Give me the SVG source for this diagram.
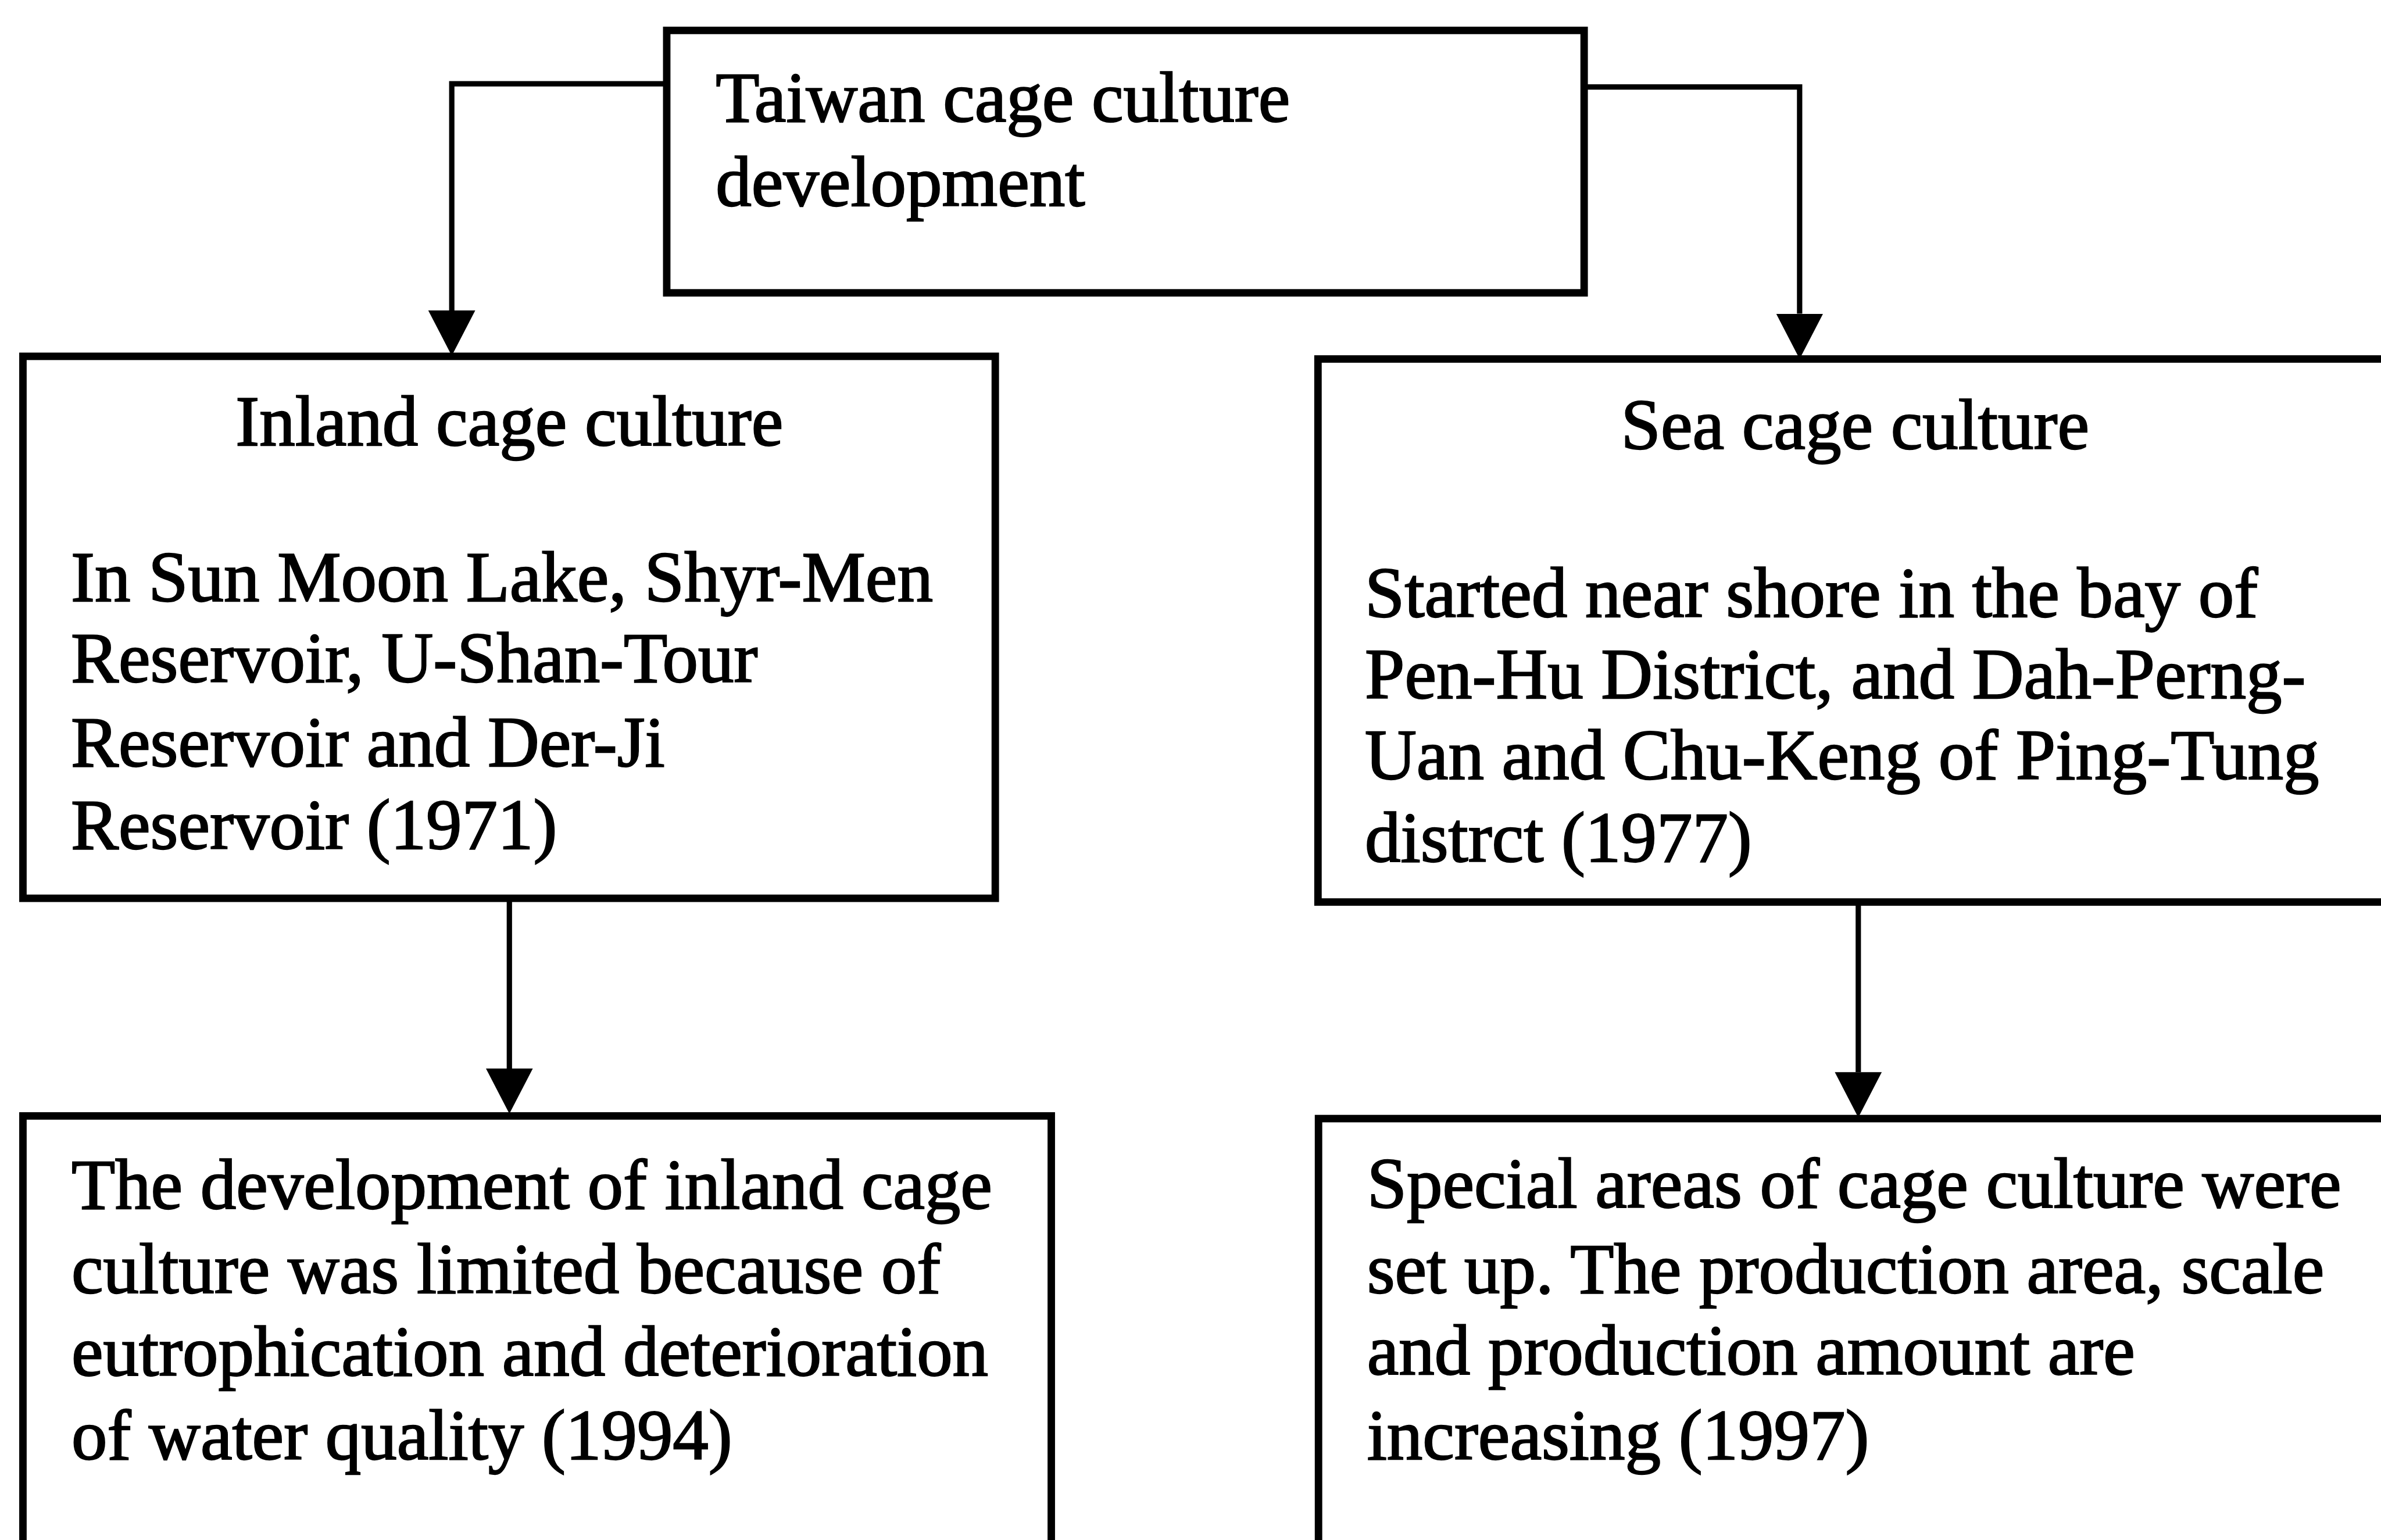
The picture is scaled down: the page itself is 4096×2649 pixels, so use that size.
<svg xmlns="http://www.w3.org/2000/svg" width="4096" height="2649" viewBox="0 0 4096 2649">
  <style>
    .box { fill: #ffffff; stroke: #000000; stroke-width: 14; }
    .link { fill: none; stroke: #000000; stroke-width: 10; stroke-linecap: butt; }
    .txt { font-family: "Liberation Serif", "Times New Roman", serif; font-size: 134px; fill: #000000; stroke: #000000; stroke-width: 2.5; }
    .mid { text-anchor: middle; }
  </style>
  <defs>
    <marker id="arrow" markerUnits="userSpaceOnUse" viewBox="0 0 85 88" refX="0" refY="44" markerWidth="85" markerHeight="88" orient="auto">
      <path d="M0,0 L85,44 L0,88 Z" fill="#000000"/>
    </marker>
  </defs>
  <rect width="4096" height="2649" fill="#ffffff"/>
  <g transform="scale(0.917563)">
    <g id="connectors">
      <path class="link" d="M1250,157 H847 V582" marker-end="url(#arrow)"/>
      <path class="link" d="M2970,163 H3374 V588" marker-end="url(#arrow)"/>
      <path class="link" d="M955,1684 V2003" marker-end="url(#arrow)"/>
      <path class="link" d="M3484,1691 V2010" marker-end="url(#arrow)"/>
    </g>
    <g id="node-taiwan">
      <rect class="box" x="1250" y="57" width="1720" height="492"/>
      <text class="txt" x="1342" y="228">Taiwan cage culture</text>
      <text class="txt" x="1342" y="386">development</text>
    </g>
    <g id="node-inland">
      <rect class="box" x="43" y="668" width="1823" height="1016"/>
      <text class="txt mid" x="955" y="835">Inland cage culture</text>
      <text class="txt" x="133" y="1127">In Sun Moon Lake, Shyr-Men</text>
      <text class="txt" x="133" y="1278">Reservoir, U-Shan-Tour</text>
      <text class="txt" x="133" y="1436">Reservoir and Der-Ji</text>
      <text class="txt" x="133" y="1591">Reservoir (1971)</text>
    </g>
    <g id="node-sea">
      <rect class="box" x="2471" y="673" width="2015" height="1018"/>
      <text class="txt mid" x="3478" y="841">Sea cage culture</text>
      <text class="txt" x="2559" y="1156">Started near shore in the bay of</text>
      <text class="txt" x="2559" y="1309">Pen-Hu District, and Dah-Perng-</text>
      <text class="txt" x="2559" y="1460">Uan and Chu-Keng of Ping-Tung</text>
      <text class="txt" x="2559" y="1615">distrct (1977)</text>
    </g>
    <g id="node-inland-limit">
      <rect class="box" x="43" y="2092" width="1928" height="900"/>
      <text class="txt" x="134" y="2266">The development of inland cage</text>
      <text class="txt" x="134" y="2424">culture was limited because of</text>
      <text class="txt" x="134" y="2579">eutrophication and deterioration</text>
      <text class="txt" x="134" y="2736">of water quality (1994)</text>
    </g>
    <g id="node-sea-growth">
      <rect class="box" x="2472" y="2097" width="2020" height="900"/>
      <text class="txt" x="2563" y="2264">Special areas of cage culture were</text>
      <text class="txt" x="2563" y="2424">set up. The production area, scale</text>
      <text class="txt" x="2563" y="2576">and production amount are</text>
      <text class="txt" x="2563" y="2736">increasing (1997)</text>
    </g>
  </g>
</svg>
